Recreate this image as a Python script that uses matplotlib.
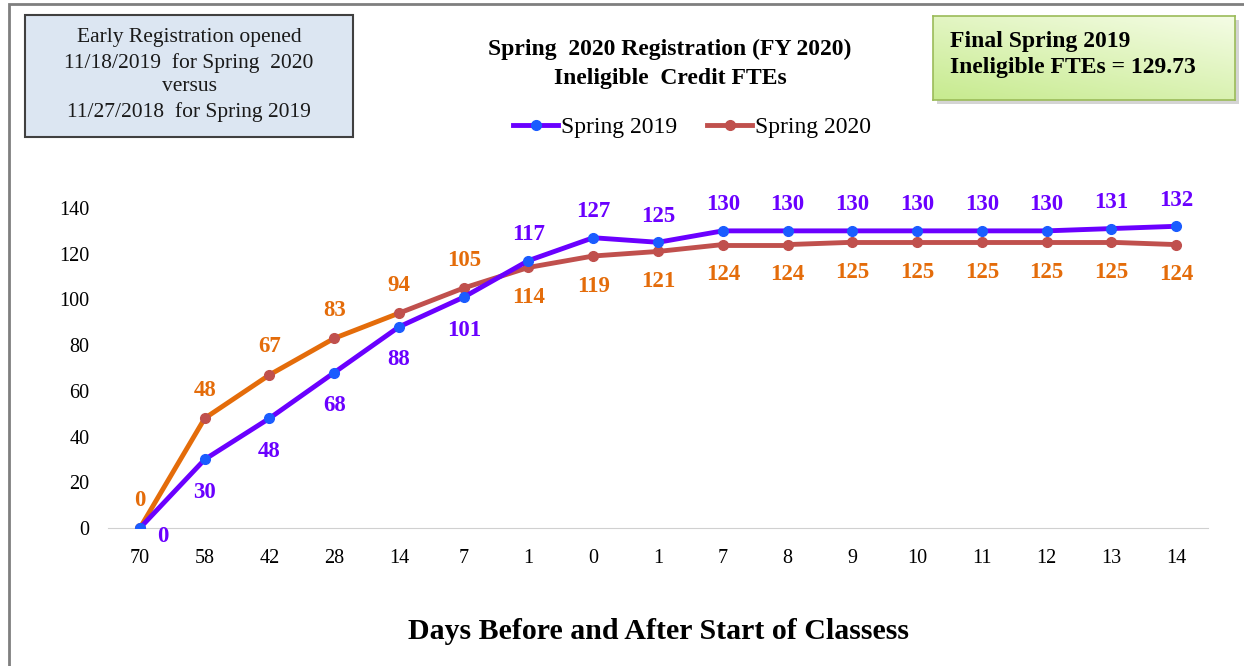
import numpy as np
import matplotlib.pyplot as plt
from matplotlib.patches import Rectangle

days = ['70', '58', '42', '28', '14', '7', '1', '0', '1', '7', '8', '9', '10', '11', '12', '13', '14']
spring_2019 = [0, 30, 48, 68, 88, 101, 117, 127, 125, 130, 130, 130, 130, 130, 130, 131, 132]
spring_2020 = [0, 48, 67, 83, 94, 105, 114, 119, 121, 124, 124, 125, 125, 125, 125, 125, 124]
# first segments of the 2020 line are drawn orange in the original
seg_2020_colors = ['#E46C0A'] * 4 + ['#C0504D'] * 12

purple = '#6A00FF'
blue_marker = '#1A5CFF'
red = '#C0504D'
orange = '#E46C0A'

plt.rcParams['font.family'] = ['Liberation Serif', 'DejaVu Serif']

fig = plt.figure(figsize=(12.44, 6.66), dpi=100)
W, H = 1244, 666

# outer frame
fig.add_artist(Rectangle((9 / W, -0.01), 1.0, (666 - 4) / H + 0.01, transform=fig.transFigure,
                         fill=False, edgecolor='#7f7f7f', linewidth=2))

ax = fig.add_axes([107.6 / W, (666 - 528) / H, 1100.8 / W, (528 - 162.3) / H])
x = np.arange(len(days))

# Spring 2020 line (segment colours vary)
for i in range(len(x) - 1):
    ax.plot(x[i:i + 2], spring_2020[i:i + 2], color=seg_2020_colors[i], linewidth=3.5,
            solid_capstyle='round', zorder=2)
ax.plot(x, spring_2020, linestyle='none', marker='o', markersize=7, color=red, zorder=3)
ax.plot(x, spring_2019, '-', color=purple, linewidth=3.5, marker='o', markersize=7,
        markerfacecolor=blue_marker, markeredgecolor=blue_marker, zorder=4)

# legend proxies
h1, = ax.plot([], [], '-', color=purple, linewidth=3.5, marker='o', markersize=7,
              markerfacecolor=blue_marker, markeredgecolor=blue_marker)
h2, = ax.plot([], [], '-', color=red, linewidth=3.5, marker='o', markersize=7)
fig.legend([h1, h2], ['Spring 2019', 'Spring 2020'], loc='center',
           bbox_to_anchor=(692 / W, 1 - 127 / H), ncol=2, frameon=False, fontsize=17,
           handlelength=1.9, handletextpad=0.1, columnspacing=1.3)

# data labels
lbl = dict(fontsize=16.5, fontweight='bold', ha='center', va='center',
           textcoords='offset pixels')
for i, v in enumerate(spring_2019):
    if i == 0:
        off = (23, -9)
    elif i <= 5:
        off = (0, -33)
    else:
        off = (0, 26)
    ax.annotate(str(v), (x[i], v), xytext=off, color=purple, **lbl)
for i, v in enumerate(spring_2020):
    if i <= 5:
        off = (0, 28)
    else:
        off = (0, -30)
    ax.annotate(str(v), (x[i], v), xytext=off, color=orange, **lbl)

ax.set_xlim(-0.5, len(days) - 0.5)
ax.set_ylim(0, 160)
ax.set_yticks(np.arange(0, 141, 20))
ax.set_xticks(x)
ax.set_xticklabels(days)
for s in ['top', 'right', 'left']:
    ax.spines[s].set_visible(False)
ax.spines['bottom'].set_color('#d0d0d0')
ax.tick_params(axis='both', length=0, labelsize=14.5)
ax.tick_params(axis='y', pad=13)
ax.tick_params(axis='x', pad=15)
ax.set_xlabel('Days Before and After Start of Classess', fontsize=21.5, fontweight='bold',
              labelpad=36)

# title
fig.text(670 / W, 1 - 64 / H, 'Spring  2020 Registration (FY 2020)\nIneligible  Credit FTEs',
         ha='center', va='center', fontsize=17, fontweight='bold', linespacing=1.55)

# left info box
fig.add_artist(Rectangle((25 / W, 1 - 137 / H), 328 / W, 122 / H, transform=fig.transFigure,
                         facecolor='#DCE6F2', edgecolor='#404040', linewidth=1.5))
fig.text(189 / W, 1 - 75 / H,
         'Early Registration opened\n11/18/2019  for Spring  2020\nversus\n11/27/2018  for Spring 2019',
         ha='center', va='center', fontsize=15.5, linespacing=1.35, color='#1a1a1a')

# right info box with gradient and shadow
fig.add_artist(Rectangle((937 / W, 1 - 104 / H), 302 / W, 84 / H, transform=fig.transFigure,
                         facecolor='#b8b8b8', edgecolor='none', alpha=0.6, zorder=-1))
gax = fig.add_axes([933 / W, 1 - 100 / H, 302 / W, 84 / H], zorder=5)
gy, gx = np.mgrid[0:1:50j, 0:1:100j]
t = np.clip(0.6 * gy + 0.4 * (1 - gx), 0, 1)
c_top = np.array([0.96, 0.99, 0.90])
c_bot = np.array([0.78, 0.92, 0.56])
img = c_top[None, None, :] * (1 - t[..., None]) + c_bot[None, None, :] * t[..., None]
gax.imshow(img, aspect='auto', extent=[0, 1, 0, 1])
gax.set_xticks([])
gax.set_yticks([])
for s in gax.spines.values():
    s.set_color('#9BBB59')
    s.set_linewidth(1.2)
gax.text(0.055, 0.54, 'Final Spring 2019\nIneligible FTEs = 129.73', transform=gax.transAxes,
         ha='left', va='center', fontsize=17, fontweight='bold', linespacing=1.3)

fig.savefig('out.png', dpi=100)
